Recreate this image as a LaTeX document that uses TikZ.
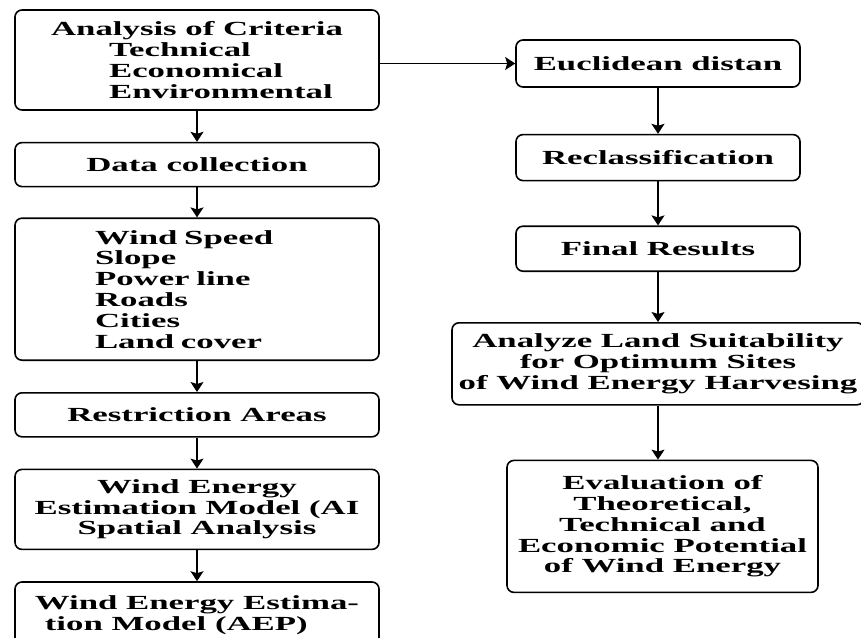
\documentclass[tikz,border=0pt]{standalone}
\usepackage{fontspec}
\setmainfont{Liberation Serif}[FakeStretch=1.74]
\usetikzlibrary{positioning,arrows.meta}

\begin{document}
\begin{tikzpicture}[x=1pt,y=1pt,->,>={Stealth[length=10pt,width=13pt,inset=2pt]},line width=1.4pt,node distance=31pt]
  \tikzstyle{box}=[draw,-,line width=1.6pt,rounded corners=7pt,inner sep=0pt,align=center,
    font=\fontsize{20}{20.8}\selectfont\bfseries]
  \tikzstyle{lbox}=[box,minimum width=364pt]
  \tikzstyle{rbox}=[box,minimum width=284pt]
  \useasboundingbox (0,0) rectangle (861,-637);

  % left column
  \node [lbox,minimum height=100pt,align=left] (crit) at (197,-60)
    {Analysis of Criteria\\\hspace*{58pt}Technical\\\hspace*{58pt}Economical\\\hspace*{58pt}Environmental};
  \node [lbox,minimum height=44pt] (data) [below=of crit] {Data collection};
  \node [lbox,minimum height=142pt,align=left,text width=204pt,inner xsep=80pt] (layers) [below=30pt of data]
    {Wind Speed\\Slope\\Power line\\Roads\\Cities\\Land cover};
  \node [lbox,minimum height=44pt] (restr) [below=of layers] {Restriction Areas};
  \node [lbox,minimum height=80pt] (model) [below=of restr]
    {Wind Energy\\Estimation Model (AI\\Spatial Analysis};
  \node [lbox,minimum height=66pt,align=left] (aep) [below=of model]
    {Wind Energy Estima-\\\hspace*{10pt}tion Model (AEP)};

  % right column
  \node [rbox,minimum height=47pt] (euc) at (658,-63.5) {Euclidean distan};
  \node [rbox,minimum height=46pt] (recl) [below=46pt of euc] {Reclassification};
  \node [rbox,minimum height=45pt] (final) [below=44pt of recl] {Final Results};
  \node [box,minimum width=412pt,minimum height=82pt] (suit) [below=50pt of final]
    {Analyze Land Suitability\\for Optimum Sites\\of Wind Energy Harvesing};
  \node [box,minimum width=311pt,minimum height=132pt] (eval) [below=54pt of suit,xshift=4.5pt]
    {Evaluation of\\Theoretical,\\Technical and\\Economic Potential\\of Wind Energy};

  \path (crit) edge (data)
        (data) edge (layers)
        (layers) edge (restr)
        (restr) edge (model)
        (model) edge (aep)
        (crit.east |- euc.west) edge (euc.west)
        (euc) edge (recl)
        (recl) edge (final)
        (final) edge (suit)
        (suit.south) edge (suit.south |- eval.north);
\end{tikzpicture}
\end{document}
